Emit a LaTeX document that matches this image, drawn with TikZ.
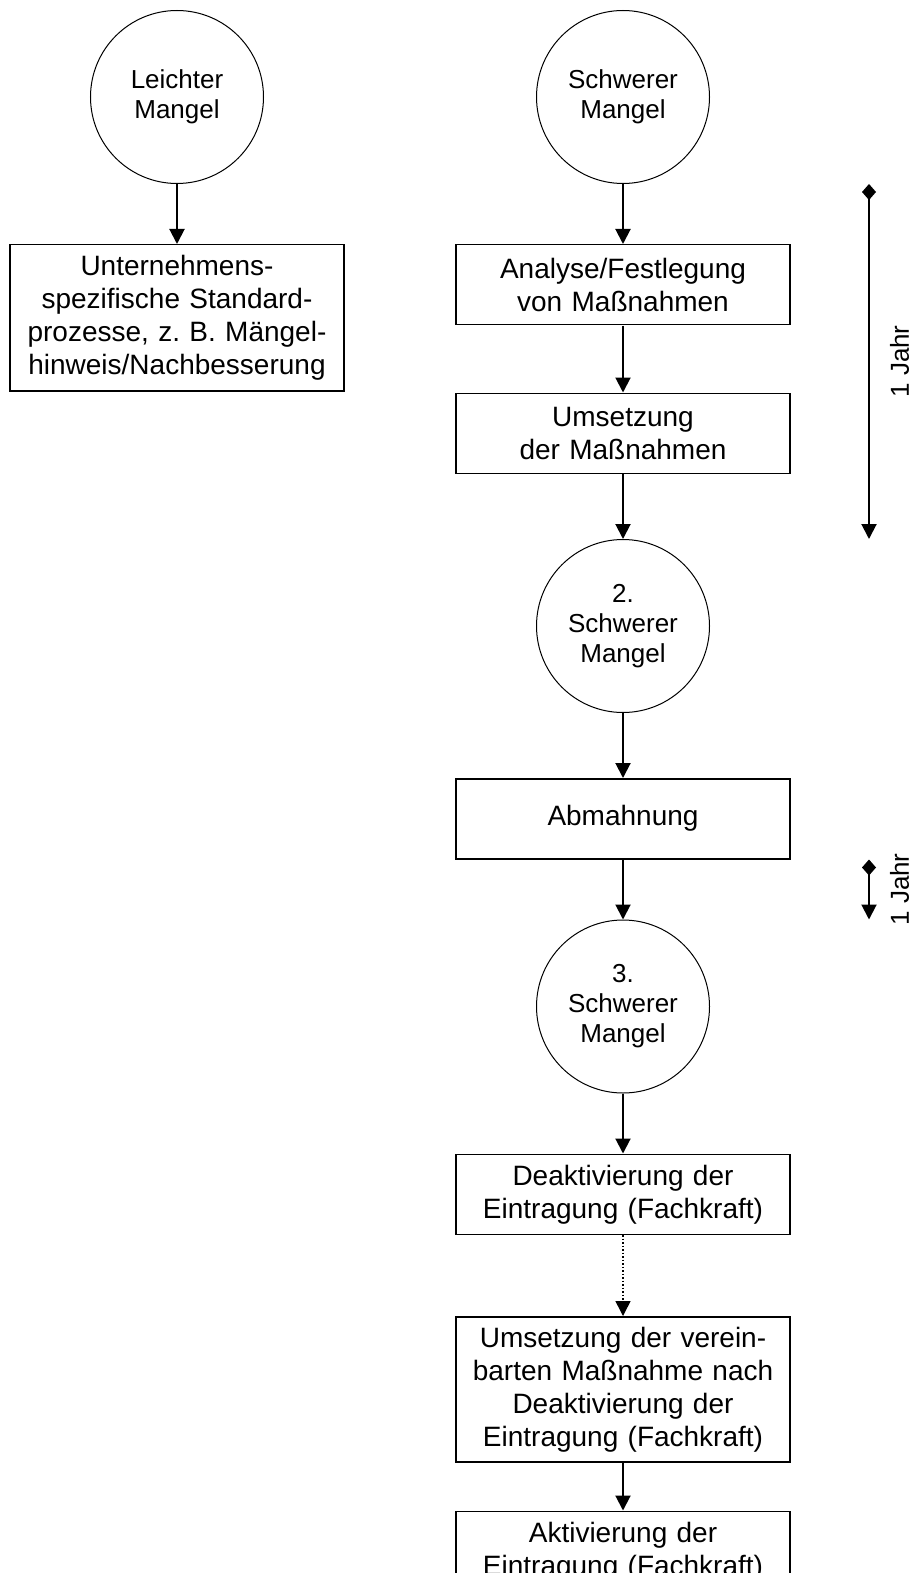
\documentclass[tikz,border=0pt]{standalone}
\usepackage{fontspec}
\setmainfont{Liberation Sans}
\usepackage{tikz}
\usetikzlibrary{arrows.meta,positioning,shapes}

\begin{document}
\begin{tikzpicture}[->,>={Triangle[length=7.5pt,width=7.5pt]},node distance=30pt,
                    line width=1pt,
                    state node/.style={circle,draw,line width=0.5pt,minimum size=86.5pt,inner sep=0pt,
                                       align=center,font=\fontsize{13}{15}\selectfont},
                    step node/.style={rectangle,draw,line width=0.75pt,minimum width=167pt,minimum height=40pt,
                                      text width=155pt,align=center,font=\fontsize{14}{16.5}\selectfont},
                    time line/.style={{Diamond[length=8pt,width=7pt]}-{Triangle[length=7.5pt,width=7.5pt]}},
                    time label/.style={rotate=90,anchor=north,inner sep=0pt,font=\fontsize{13}{15}\selectfont}]

  \useasboundingbox (-88.5pt,48.5pt) rectangle (368pt,-738pt);

  \node[state node] (1) {Leichter\\Mangel};
  \node[step node,minimum height=73pt] (2) [below=of 1] {Unternehmens-\\spezifische Standard-\\prozesse, z.\ B. Mängel-\\hinweis/Nachbesserung};
  \node[state node] (3) [right=136pt of 1] {Schwerer\\Mangel};
  \node[step node] (4) [below=of 3] {Analyse/Festlegung\\von Maßnahmen};
  \node[step node] (5) [below=33.5pt of 4] {Umsetzung\\der Maßnahmen};
  \node[state node] (6) [below=32.5pt of 5] {2.\\Schwerer\\Mangel};
  \node[step node] (7) [below=32.5pt of 6] {Abmahnung};
  \node[state node] (8) [below=of 7] {3.\\Schwerer\\Mangel};
  \node[step node] (9) [below=of 8] {Deaktivierung der\\Eintragung (Fachkraft)};
  \node[step node,minimum height=72.5pt] (10) [below=40.5pt of 9] {Umsetzung der verein-\\barten Maßnahme nach\\Deaktivierung der\\Eintragung (Fachkraft)};
  \node[step node] (11) [below=24pt of 10] {Aktivierung der\\Eintragung (Fachkraft)};

  % time marks
  \coordinate (t1) at ([xshift=123pt]3.south);
  \coordinate (t2) at ([xshift=123pt]6.north);
  \coordinate (t3) at ([xshift=123pt]7.south);
  \coordinate (t4) at ([xshift=123pt]8.north);

  \path
    (1) edge (2)
    (3) edge (4)
    (4) edge (5)
    (5) edge (6)
    (6) edge (7)
    (7) edge (8)
    (8) edge (9)
    (9) edge [densely dotted,line width=0.75pt] (10)
    (10) edge (11)
    ;

  \draw[time line] (t1) -- coordinate[midway] (m1) (t2);
  \draw[time line] (t3) -- coordinate[midway] (m2) (t4);
  \node[time label] (j1) at ([xshift=10pt]m1) {1 Jahr};
  \node[time label] (j2) at ([xshift=10pt]m2) {1 Jahr};
\end{tikzpicture}
\end{document}
